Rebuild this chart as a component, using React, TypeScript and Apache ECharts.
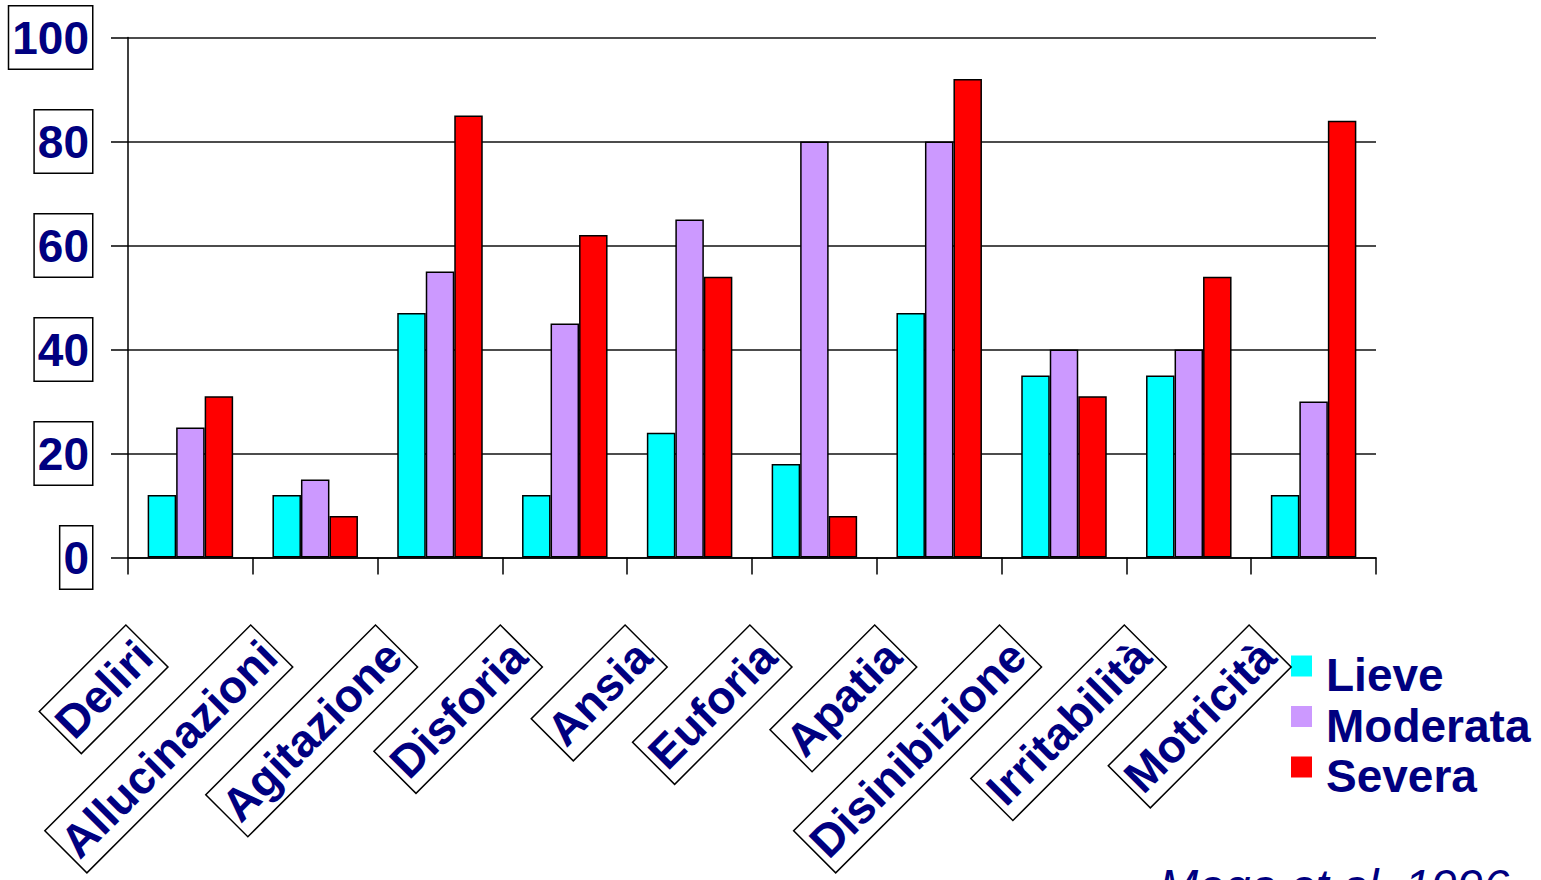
import { useEffect, useRef } from "react";
import * as echarts from "echarts";

// Category names along the horizontal axis
const categories = [
  "Deliri",
  "Allucinazioni",
  "Agitazione",
  "Disforia",
  "Ansia",
  "Euforia",
  "Apatia",
  "Disinibizione",
  "Irritabilità",
  "Motricità",
];

// Percentages per severity level
const seriesNames = ["Lieve", "Moderata", "Severa"];
const lieve = [12, 12, 47, 12, 24, 18, 47, 35, 35, 12];
const moderata = [25, 15, 55, 45, 65, 80, 80, 40, 40, 30];
const severa = [31, 8, 85, 62, 54, 8, 92, 31, 54, 84];

// Value axis ticks
const yTicks = [0, 20, 40, 60, 80, 100];

const sourceNote = "Mega et al. 1996";

const NAVY = "#000080";
const FONT = '"Liberation Sans", Arial, Helvetica, sans-serif';
const COLORS = ["#00FFFF", "#CC99FF", "#FF0000"];

// Legend swatch: a square sitting at the top of a taller (empty) icon box,
// so the label text lines up a little below the swatch
const LEGEND_ICON = "path://M0,0L21,0L21,21L0,21Z M0,39";

export default function App() {
  const ref = useRef<HTMLDivElement>(null);

  useEffect(() => {
    if (!ref.current) return;
    const chart = echarts.init(ref.current, undefined, { renderer: "svg" });

    const values = [lieve, moderata, severa];
    const barSeries = seriesNames.map((name, k) => ({
      name,
      type: "bar",
      data: values[k],
      barWidth: 28.5,
      barGap: "0%",
      itemStyle: { color: COLORS[k], borderColor: "#000", borderWidth: 1.5 },
    }));

    // Boxed, rotated category labels anchored on each category centre
    const labelSeries = {
      type: "custom",
      silent: true,
      clip: false,
      z: 10,
      data: categories.map((_, i) => [i, 0]),
      encode: { x: 0, y: 1 },
      renderItem: (params: any, api: any) => {
        const p = api.coord([api.value(0), 0]);
        return {
          type: "text",
          x: p[0] - 44,
          y: p[1] + 89,
          rotation: Math.PI / 4,
          style: {
            text: categories[params.dataIndex],
            x: 0,
            y: 0,
            align: "right",
            verticalAlign: "middle",
            fill: NAVY,
            fontSize: 46,
            fontWeight: "bold",
            fontFamily: FONT,
            lineHeight: 46,
            backgroundColor: "#fff",
            borderColor: "#000",
            borderWidth: 1.5,
            padding: [6, 3, 6, 3],
          },
        };
      },
    };

    chart.setOption({
      animation: false,
      backgroundColor: "#fff",
      grid: {
        left: 128,
        right: 165,
        top: 37.5,
        bottom: 322.5,
        containLabel: false,
        outerBoundsMode: "none",
      },
      legend: {
        data: seriesNames,
        orient: "vertical",
        left: 1291,
        top: 652,
        padding: 0,
        icon: LEGEND_ICON,
        itemWidth: 21,
        itemHeight: 39,
        itemGap: 4.5,
        selectedMode: false,
        itemStyle: { borderWidth: 0 },
        textStyle: {
          color: NAVY,
          fontSize: 46,
          fontWeight: "bold",
          fontFamily: FONT,
          lineHeight: 46,
          padding: [0, 0, 0, 9],
        },
      },
      xAxis: {
        type: "category",
        data: categories,
        boundaryGap: true,
        axisLine: { show: true, lineStyle: { color: "#000", width: 1.5 } },
        axisTick: {
          show: true,
          alignWithLabel: false,
          length: 17,
          lineStyle: { color: "#000", width: 1.5 },
        },
        axisLabel: { show: false },
        splitLine: { show: false },
      },
      yAxis: {
        type: "value",
        min: yTicks[0],
        max: yTicks[yTicks.length - 1],
        interval: yTicks[1] - yTicks[0],
        axisLine: { show: true, lineStyle: { color: "#000", width: 1.5 } },
        axisTick: { show: true, length: 17, lineStyle: { color: "#000", width: 1.5 } },
        splitLine: { show: true, lineStyle: { color: "#111", width: 1.5 } },
        axisLabel: {
          margin: 36,
          color: NAVY,
          fontSize: 46,
          fontWeight: "bold",
          fontFamily: FONT,
          lineHeight: 46,
          backgroundColor: "#fff",
          borderColor: "#000",
          borderWidth: 1.5,
          padding: [12, 3, 4, 3],
        },
      },
      graphic: [
        {
          type: "text",
          left: 1159,
          top: 862,
          silent: true,
          style: {
            text: sourceNote,
            fill: NAVY,
            fontSize: 47,
            fontStyle: "italic",
            fontFamily: FONT,
          },
        },
      ],
      series: [...barSeries, labelSeries],
    });

    return () => chart.dispose();
  }, []);

  return (
    <div
      ref={ref}
      style={{ position: "fixed", left: 0, top: 0, width: 1541, height: 880 }}
    />
  );
}
